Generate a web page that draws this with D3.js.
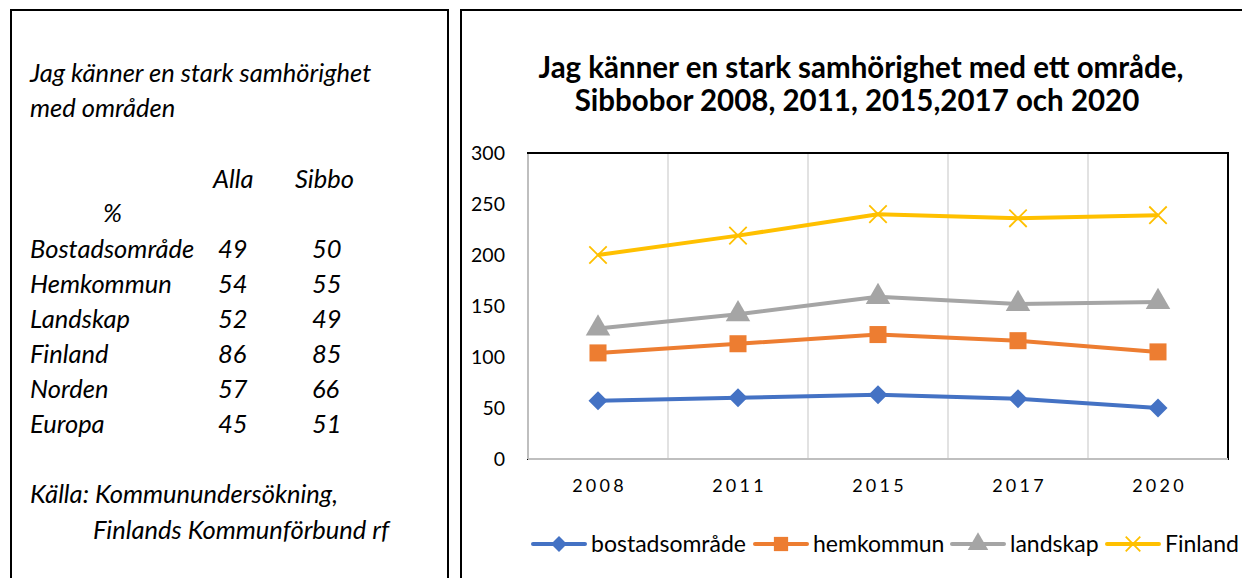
<!DOCTYPE html>
<html>
<head>
<meta charset="utf-8">
<script src="https://cdn.jsdelivr.net/npm/d3@7"></script>
<style>
  body { margin: 0; background: #fff; }
  svg { display: block; font-family: Lato, "Open Sans", sans-serif; }
</style>
</head>
<body>
<svg id="chart" width="1242" height="578"></svg>
<script>
'use strict';

// chart data (Sibbo, stacked)
var years = ["2008", "2011", "2015", "2017", "2020"];
var bostadsomrade = [57, 60, 63, 59, 50];
var hemkommun = [47, 53, 59, 57, 55];
var landskap = [24, 29, 37, 36, 49];
var finland = [72, 77, 81, 84, 85];
var seriesNames = ["bostadsområde", "hemkommun", "landskap", "Finland"];
var yTicks = [0, 50, 100, 150, 200, 250, 300];

// side table
var tableRows = ["Bostadsområde", "Hemkommun", "Landskap", "Finland", "Norden", "Europa"];
var tableAlla = [49, 54, 52, 86, 57, 45];
var tableSibbo = [50, 55, 49, 85, 66, 51];

(function() {
    var svg = d3.select("#chart");

    // ---- left text box ----
    svg.append("rect")
        .attr("x", 11).attr("y", 10).attr("width", 437).attr("height", 600)
        .attr("fill", "none").attr("stroke", "#000").attr("stroke-width", 2);

    var left = svg.append("g").style("font-style", "italic").style("font-size", "25.5px").attr("fill", "#000");
    left.append("text").attr("x", 30).attr("y", 82).text("Jag känner en stark samhörighet");
    left.append("text").attr("x", 30).attr("y", 117).text("med områden");
    left.append("text").attr("x", 213).attr("y", 188).text("Alla");
    left.append("text").attr("x", 295).attr("y", 188).text("Sibbo");
    left.append("text").attr("x", 103).attr("y", 222).text("%");

    tableRows.forEach(function(name, i) {
        var y = 258 + i * 35;
        left.append("text").attr("x", 30).attr("y", y).text(name);
        left.append("text").attr("x", 218).attr("y", y).text(tableAlla[i]);
        left.append("text").attr("x", 312).attr("y", y).text(tableSibbo[i]);
    });
    left.append("text").attr("x", 30).attr("y", 503).text("Källa: Kommunundersökning,");
    left.append("text").attr("x", 93).attr("y", 539).text("Finlands Kommunförbund rf");

    // ---- chart panel ----
    svg.append("rect")
        .attr("x", 461).attr("y", 10).attr("width", 800).attr("height", 600)
        .attr("fill", "none").attr("stroke", "#000").attr("stroke-width", 2);

    var title = svg.append("text")
        .attr("text-anchor", "middle")
        .style("font-weight", "bold").style("font-size", "29.5px");
    title.append("tspan").attr("x", 861).attr("y", 78).text("Jag känner en stark samhörighet med ett område,");
    title.append("tspan").attr("x", 857).attr("y", 111).text("Sibbobor 2008, 2011, 2015,2017 och 2020");

    var margin = { left: 528, top: 153, right: 1228, bottom: 459 };

    var x = d3.scaleBand().domain(years).range([margin.left, margin.right]);
    var y = d3.scaleLinear().domain([0, 300]).range([margin.bottom, margin.top]);

    // plot frame
    svg.append("rect")
        .attr("x", margin.left).attr("y", margin.top)
        .attr("width", margin.right - margin.left).attr("height", margin.bottom - margin.top)
        .attr("fill", "#fff").attr("stroke", "#000").attr("stroke-width", 2);

    // vertical gridlines between categories
    svg.append("g").selectAll("line")
        .data(years.slice(1))
        .enter().append("line")
        .attr("x1", function(d) { return x(d); }).attr("x2", function(d) { return x(d); })
        .attr("y1", margin.top + 1).attr("y2", margin.bottom)
        .attr("stroke", "#d9d9d9").attr("stroke-width", 1.5);

    // axis lines (gray)
    svg.append("line")
        .attr("x1", margin.left).attr("x2", margin.left)
        .attr("y1", margin.top + 1).attr("y2", margin.bottom)
        .attr("stroke", "#bfbfbf").attr("stroke-width", 2);
    svg.append("line")
        .attr("x1", margin.left).attr("x2", margin.right)
        .attr("y1", margin.bottom).attr("y2", margin.bottom)
        .attr("stroke", "#bfbfbf").attr("stroke-width", 2);

    // y axis labels
    var yAxis = svg.append("g")
        .attr("transform", "translate(" + (margin.left - 23) + ",0)")
        .call(d3.axisLeft(y).tickValues(yTicks).tickSize(0).tickPadding(0));
    yAxis.select(".domain").remove();
    yAxis.selectAll("text")
        .style("font-family", "Lato, sans-serif").style("font-size", "19.5px").attr("fill", "#000");

    // x axis labels
    var xAxis = svg.append("g")
        .attr("transform", "translate(0," + margin.bottom + ")")
        .call(d3.axisBottom(x).tickSize(0).tickPadding(20));
    xAxis.select(".domain").remove();
    xAxis.selectAll("text")
        .style("font-family", "Lato, sans-serif").style("font-size", "18px")
        .style("letter-spacing", "3.3px").attr("dx", "1.6px").attr("fill", "#000");

    // stack series
    var rows = years.map(function(yr, i) {
        return { year: yr, "bostadsområde": bostadsomrade[i], "hemkommun": hemkommun[i], "landskap": landskap[i], "Finland": finland[i] };
    });
    var stacked = d3.stack().keys(seriesNames)(rows);

    var colors = ["#4472c4", "#ed7d31", "#a5a5a5", "#ffc000"];
    var symbols = [d3.symbolDiamond2, d3.symbolSquare, d3.symbolTriangle, d3.symbolX];
    var symSize = [230, 290, 260, 200];

    var cx = function(d) { return x(d.data.year) + x.bandwidth() / 2; };

    var line = d3.line()
        .x(cx)
        .y(function(d) { return y(d[1]); });

    function drawMarker(g, k, size) {
        var p = g.append("path").attr("d", d3.symbol().type(symbols[k]).size(size)());
        if (k === 3) {
            p.attr("fill", "none").attr("stroke", colors[k]).attr("stroke-width", 1.8);
        } else {
            p.attr("fill", colors[k]);
        }
        return p;
    }

    stacked.forEach(function(s, k) {
        svg.append("path")
            .datum(s)
            .attr("d", line)
            .attr("fill", "none")
            .attr("stroke", colors[k])
            .attr("stroke-width", 4)
            .attr("stroke-linejoin", "round");

        s.forEach(function(d) {
            var g = svg.append("g").attr("transform", "translate(" + cx(d) + "," + y(d[1]) + ")");
            drawMarker(g, k, symSize[k]);
        });
    });

    // legend
    var legendX = [533, 755, 952, 1107];
    var legend = svg.append("g");
    seriesNames.forEach(function(name, k) {
        var lg = legend.append("g").attr("transform", "translate(" + legendX[k] + ",544)");
        lg.append("line").attr("x1", 0).attr("x2", 52).attr("y1", 0).attr("y2", 0)
            .attr("stroke", colors[k]).attr("stroke-width", 4).attr("stroke-linecap", "round");
        var mg = lg.append("g").attr("transform", "translate(26,0)");
        drawMarker(mg, k, symSize[k] * 0.7);
        lg.append("text").attr("x", 58).attr("y", 8)
            .style("font-size", "23px").text(name);
    });
})();
</script>
</body>
</html>
